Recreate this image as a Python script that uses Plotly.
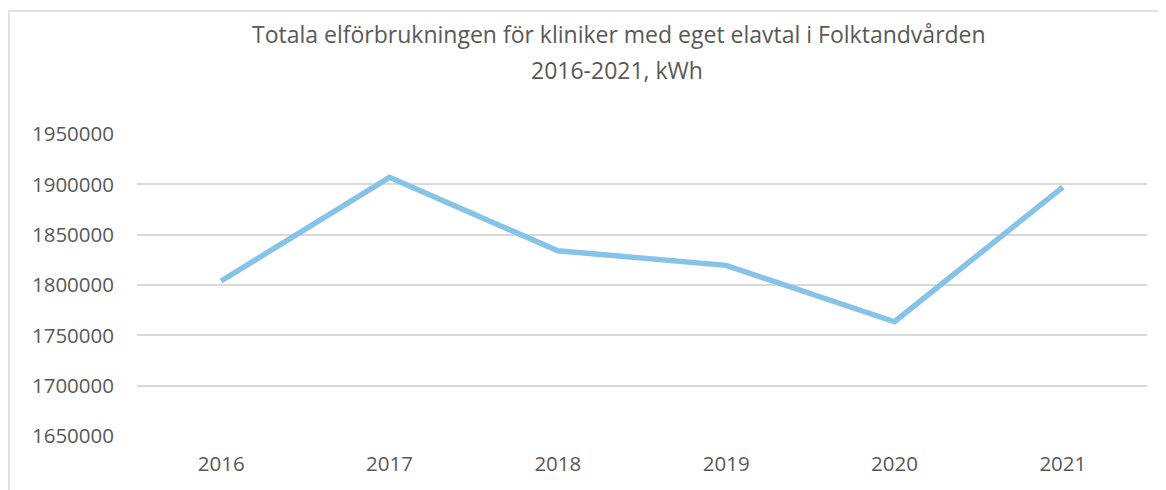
import plotly.graph_objects as go

years = ["2016", "2017", "2018", "2019", "2020", "2021"]
kwh = [1804000, 1907000, 1834000, 1819500, 1763500, 1897300]
y_ticks = [1650000, 1700000, 1750000, 1800000, 1850000, 1900000, 1950000]
title_line1 = "Totala elförbrukningen för kliniker med eget elavtal i Folktandvården"
title_line2 = "2016-2021, kWh"

# the page places the figure 8px in from the top-left corner
OFF = 8
W, H = 1166, 490
L, R, T, B = 137 - OFF, 19 + OFF, 134 - OFF, 54 + OFF
pw, ph = W - L - R, H - T - B

def px(x):
    return (x - OFF - L) / pw

def py(y):
    return (H - B - (y - OFF)) / ph

FONT = "Open Sans"
TXT = "#595959"

fig = go.Figure()
fig.add_trace(go.Scatter(
    x=years, y=kwh, mode="lines",
    line=dict(color="#86C3E8", width=5.5),
    hoverinfo="x+y", showlegend=False,
))

fig.update_layout(
    width=W, height=H,
    margin=dict(l=L, r=R, t=T, b=B),
    paper_bgcolor="white", plot_bgcolor="white",
    font=dict(family=FONT, color=TXT, size=18),
    xaxis=dict(
        type="category", range=[-0.5, 5.5], showgrid=False, zeroline=False,
        showline=False, ticks="", tickfont=dict(size=20.5, color=TXT, family=FONT),
        ticklabelstandoff=13,
    ),
    yaxis=dict(
        range=[1650000, 1950000], tickvals=y_ticks,
        ticktext=[str(v) for v in y_ticks],
        showgrid=True, gridcolor="#D9D9D9", gridwidth=1.5,
        zeroline=False, showline=False, ticks="",
        tickfont=dict(size=20.5, color=TXT, family=FONT),
        ticklabelstandoff=22,
    ),
    shapes=[dict(
        type="rect", xref="paper", yref="paper",
        x0=px(9), x1=px(1180), y0=py(505), y1=py(11),
        line=dict(color="#D9D9D9", width=1.5), fillcolor="rgba(0,0,0,0)",
        layer="below",
    )],
    annotations=[
        dict(text=title_line1, xref="paper", yref="paper", x=px(619), y=py(34),
             xanchor="center", yanchor="middle", showarrow=False,
             font=dict(size=23, color=TXT, family=FONT)),
        dict(text=title_line2, xref="paper", yref="paper", x=px(617), y=py(70),
             xanchor="center", yanchor="middle", showarrow=False,
             font=dict(size=23, color=TXT, family=FONT)),
    ],
)

fig.write_html("out.html")
